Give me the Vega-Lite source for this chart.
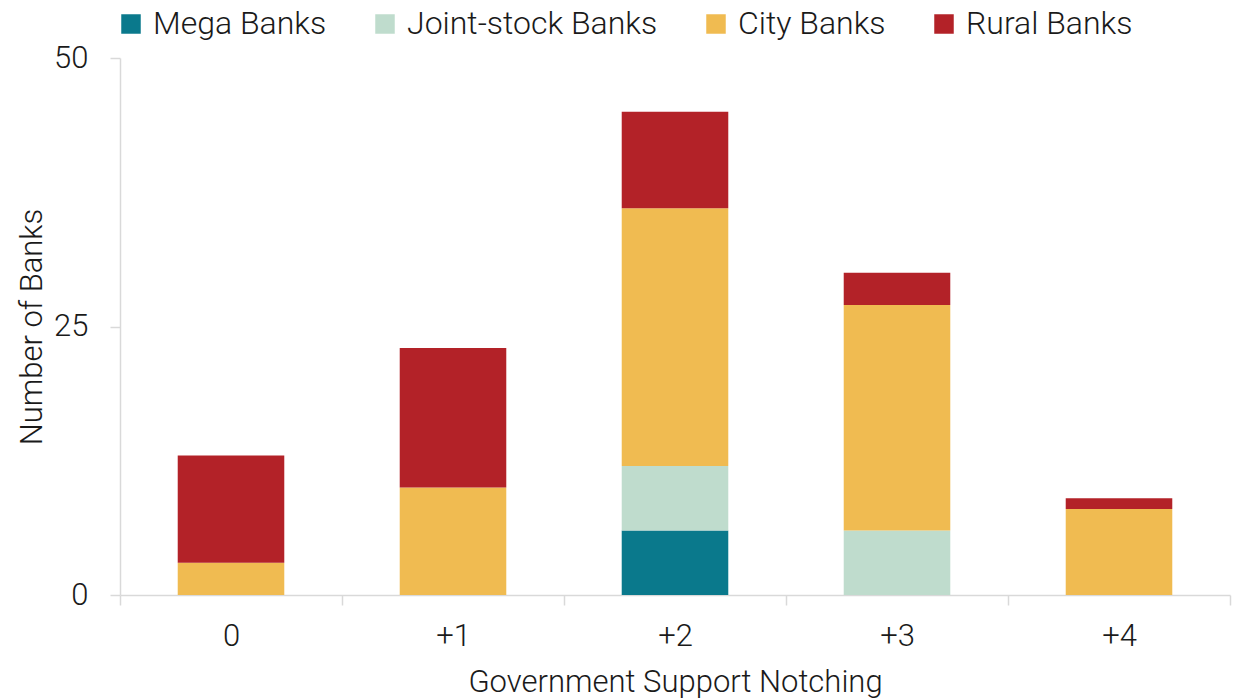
{
  "$schema": "https://vega.github.io/schema/vega-lite/v6.json",
  "width": 1110,
  "height": 537,
  "autosize": {"type": "none"},
  "padding": {"left": 120, "top": 58, "right": 10, "bottom": 103},
  "background": "white",
  "config": {
    "view": {"stroke": null},
    "font": "Roboto",
    "axis": {"labelFont": "Roboto", "titleFont": "Roboto", "labelFontWeight": 300, "titleFontWeight": 300, "labelColor": "#1a1a1a", "titleColor": "#1a1a1a", "domainColor": "#d9d9d9", "tickColor": "#d9d9d9", "grid": false},
    "legend": {"labelFont": "Roboto", "labelFontWeight": 300, "labelColor": "#1a1a1a"}
  },
  "data": {
    "values": [
      {"notch": "0", "type": "Mega Banks", "count": 0},
      {"notch": "0", "type": "Joint-stock Banks", "count": 0},
      {"notch": "0", "type": "City Banks", "count": 3},
      {"notch": "0", "type": "Rural Banks", "count": 10},
      {"notch": "+1", "type": "Mega Banks", "count": 0},
      {"notch": "+1", "type": "Joint-stock Banks", "count": 0},
      {"notch": "+1", "type": "City Banks", "count": 10},
      {"notch": "+1", "type": "Rural Banks", "count": 13},
      {"notch": "+2", "type": "Mega Banks", "count": 6},
      {"notch": "+2", "type": "Joint-stock Banks", "count": 6},
      {"notch": "+2", "type": "City Banks", "count": 24},
      {"notch": "+2", "type": "Rural Banks", "count": 9},
      {"notch": "+3", "type": "Mega Banks", "count": 0},
      {"notch": "+3", "type": "Joint-stock Banks", "count": 6},
      {"notch": "+3", "type": "City Banks", "count": 21},
      {"notch": "+3", "type": "Rural Banks", "count": 3},
      {"notch": "+4", "type": "Mega Banks", "count": 0},
      {"notch": "+4", "type": "Joint-stock Banks", "count": 0},
      {"notch": "+4", "type": "City Banks", "count": 8},
      {"notch": "+4", "type": "Rural Banks", "count": 1}
    ]
  },
  "transform": [
    {"calculate": "indexof(['Mega Banks','Joint-stock Banks','City Banks','Rural Banks'], datum.type)", "as": "ord"}
  ],
  "mark": {"type": "bar", "width": {"band": 0.48}},
  "encoding": {
    "x": {
      "field": "notch", "type": "nominal",
      "sort": ["0", "+1", "+2", "+3", "+4"],
      "scale": {"paddingInner": 0, "paddingOuter": 0},
      "axis": {"title": "Government Support Notching", "labelAngle": 0, "tickBand": "extent", "tickSize": 10, "labelFontSize": 31, "titleFontSize": 31, "labelPadding": 16, "titlePadding": 16, "domainWidth": 1.5, "tickWidth": 1.5}
    },
    "y": {
      "field": "count", "type": "quantitative", "stack": "zero",
      "scale": {"domain": [0, 50], "nice": false},
      "axis": {"title": "Number of Banks", "values": [0, 25, 50], "tickSize": 10, "labelFontSize": 31, "titleFontSize": 31, "labelPadding": 22, "titlePadding": 5, "domainWidth": 1.5, "tickWidth": 1.5}
    },
    "color": {
      "field": "type", "type": "nominal",
      "scale": {"domain": ["Mega Banks", "Joint-stock Banks", "City Banks", "Rural Banks"], "range": ["#0a798c", "#bfdccd", "#f0bb51", "#b32228"]},
      "legend": {"title": null, "orient": "none", "direction": "horizontal", "legendX": -5, "legendY": -50, "symbolType": "square", "symbolSize": 380, "symbolStrokeWidth": 0, "labelFontSize": 32, "labelLimit": 0, "labelOffset": 6, "columnPadding": 42, "symbolOpacity": 1}
    },
    "order": {"field": "ord", "type": "quantitative"}
  }
}
